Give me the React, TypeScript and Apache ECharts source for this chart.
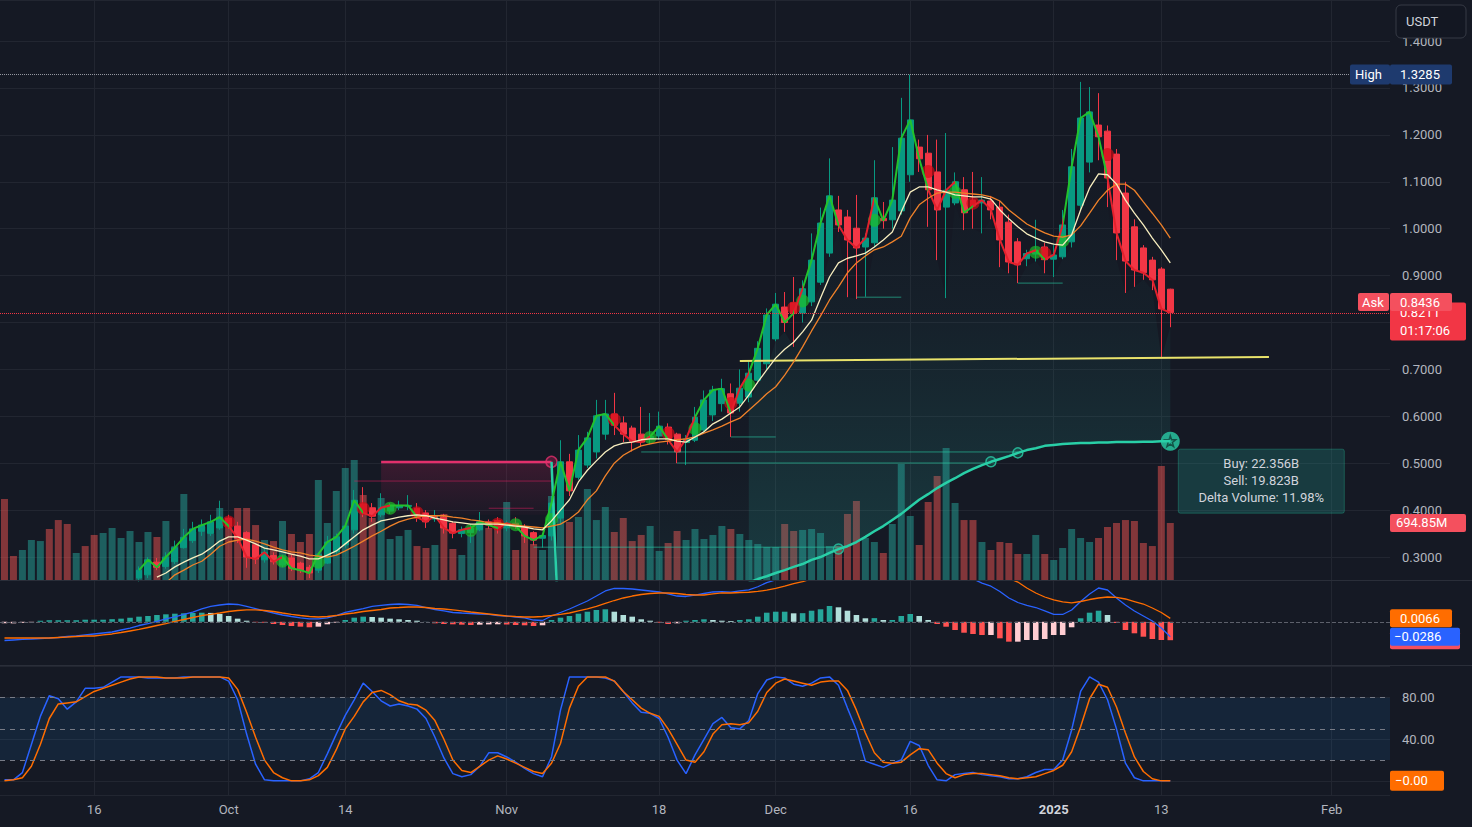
import React, { useEffect, useRef } from "react";
import * as echarts from "echarts";

// ---------------- data ----------------
const START_DATE = "2024-09-06";
const CATEGORY_COUNT = 155;
const CANDLE_START = 15;

const opens = [
  0.255, 0.262, 0.289, 0.28, 0.29, 0.32, 0.335, 0.355, 0.35, 0.362,
  0.383, 0.366, 0.352, 0.326, 0.294, 0.303, 0.283, 0.298, 0.287, 0.278,
  0.272, 0.287, 0.311, 0.326, 0.358, 0.413, 0.405, 0.39, 0.398, 0.405,
  0.408, 0.404, 0.394, 0.381, 0.385, 0.372, 0.35, 0.352, 0.358, 0.375,
  0.378, 0.362, 0.372, 0.364, 0.352, 0.34, 0.345, 0.383, 0.503, 0.47,
  0.496, 0.524, 0.562, 0.605, 0.586, 0.575, 0.562, 0.553, 0.558, 0.577,
  0.562, 0.544, 0.549, 0.571, 0.603, 0.627, 0.648, 0.628, 0.641, 0.677,
  0.712, 0.765, 0.833, 0.842, 0.82, 0.844, 0.886, 0.948, 1.04, 1.025,
  1.001, 0.961, 0.97, 1.022, 1.019, 1.038, 1.115, 1.174, 1.161, 1.121,
  1.046, 1.055, 1.083, 1.061, 1.055, 1.059, 1.046, 1.014, 0.972, 0.936,
  0.946, 0.961, 0.935, 0.94, 0.972, 1.05, 1.142, 1.221, 1.208, 1.159,
  1.076, 1.004, 0.959, 0.933, 0.914, 0.871,
];
const closes = [
  0.272, 0.294, 0.278, 0.3, 0.32, 0.342, 0.36, 0.368, 0.375, 0.385,
  0.366, 0.34, 0.3, 0.296, 0.31, 0.29, 0.3, 0.276, 0.272, 0.266,
  0.306, 0.332, 0.343, 0.366, 0.421, 0.394, 0.387, 0.405, 0.41, 0.41,
  0.41, 0.385, 0.375, 0.388, 0.362, 0.351, 0.358, 0.362, 0.375, 0.368,
  0.362, 0.372, 0.366, 0.345, 0.336, 0.346, 0.415, 0.503, 0.441, 0.528,
  0.554, 0.601, 0.605, 0.581, 0.562, 0.547, 0.545, 0.557, 0.579, 0.55,
  0.524, 0.552, 0.598, 0.635, 0.656, 0.659, 0.607, 0.66, 0.692, 0.745,
  0.816, 0.839, 0.8, 0.82, 0.872, 0.933, 1.012, 1.07, 1.008, 0.976,
  0.959, 0.98, 1.066, 1.017, 1.061, 1.193, 1.232, 1.149, 1.083, 1.04,
  1.082, 1.1, 1.034, 1.048, 1.061, 1.04, 0.976, 0.929, 0.923, 0.947,
  0.954, 0.934, 0.944, 1.008, 1.132, 1.236, 1.249, 1.196, 1.108, 0.991,
  0.931, 0.912, 0.906, 0.891, 0.829, 0.8211,
];
const lows = [
  0.248, 0.255, 0.272, 0.275, 0.285, 0.318, 0.33, 0.345, 0.345, 0.358,
  0.36, 0.33, 0.277, 0.285, 0.288, 0.284, 0.278, 0.27, 0.266, 0.255,
  0.266, 0.285, 0.305, 0.32, 0.35, 0.385, 0.375, 0.385, 0.392, 0.4,
  0.4, 0.375, 0.362, 0.375, 0.35, 0.34, 0.342, 0.33, 0.355, 0.36,
  0.35, 0.355, 0.36, 0.33, 0.325, 0.32, 0.335, 0.37, 0.43, 0.465,
  0.49, 0.51, 0.55, 0.56, 0.545, 0.525, 0.535, 0.54, 0.55, 0.54,
  0.5, 0.496, 0.545, 0.565, 0.59, 0.61, 0.556, 0.61, 0.63, 0.67,
  0.7, 0.76, 0.78, 0.748, 0.8, 0.835, 0.88, 0.94, 0.993, 0.854,
  0.85, 0.855, 0.96, 1.0, 1.0, 1.03, 1.1, 1.121, 1.004, 0.933,
  0.852, 1.05, 0.997, 1.0, 0.99, 1.02, 0.918, 0.905, 0.884, 0.92,
  0.93, 0.905, 0.897, 0.935, 0.96, 1.04, 1.12, 1.146, 1.046, 0.933,
  0.863, 0.876, 0.891, 0.869, 0.724, 0.79,
];
const highs = [
  0.28, 0.3, 0.298, 0.31, 0.335, 0.36, 0.375, 0.38, 0.39, 0.42,
  0.39, 0.375, 0.355, 0.33, 0.318, 0.31, 0.305, 0.305, 0.29, 0.283,
  0.31, 0.345, 0.35, 0.372, 0.443, 0.449, 0.415, 0.436, 0.415, 0.42,
  0.432, 0.415, 0.4, 0.4, 0.392, 0.375, 0.365, 0.37, 0.396, 0.38,
  0.385, 0.378, 0.385, 0.37, 0.355, 0.35, 0.43, 0.549, 0.52, 0.56,
  0.567, 0.635, 0.635, 0.65, 0.6, 0.58, 0.62, 0.607, 0.61, 0.585,
  0.565, 0.56, 0.62, 0.655, 0.665, 0.68, 0.67, 0.7, 0.72, 0.76,
  0.83, 0.863, 0.865, 0.897, 0.89, 0.99, 1.045, 1.15, 1.07, 1.04,
  1.072, 0.99, 1.146, 1.057, 1.174, 1.279, 1.3285, 1.19, 1.2, 1.19,
  1.204, 1.12, 1.11, 1.121, 1.11, 1.07, 1.06, 1.03, 0.98, 0.955,
  1.019, 0.97, 0.965, 1.04, 1.17, 1.313, 1.302, 1.289, 1.22, 1.17,
  1.1, 1.02, 0.965, 0.94, 0.918, 0.872,
];
// volume in millions, one per day from START_DATE
const volumes = [
  987, 293, 366, 488, 475, 622, 731, 683, 329, 414,
  549, 573, 634, 512, 597, 463, 585, 524, 719, 414,
  1048, 585, 646, 561, 878, 731, 878, 878, 670, 488,
  475, 719, 561, 463, 561, 1219, 695, 1085, 1365, 1463,
  1036, 756, 1000, 500, 536, 610, 414, 390, 427, 805,
  378, 305, 549, 670, 634, 731, 951, 366, 549, 439,
  366, 1024, 914, 707, 768, 1109, 731, 890, 585, 756,
  475, 549, 658, 354, 451, 597, 488, 622, 500, 549,
  658, 622, 561, 488, 439, 402, 402, 683, 597, 610,
  622, 573, 414, 414, 805, 963, 512, 463, 329, 683,
  1414, 780, 427, 951, 1268, 1609, 939, 731, 731, 463,
  366, 463, 451, 317, 317, 549, 317, 244, 390, 622,
  512, 463, 512, 646, 695, 731, 719, 451, 414, 1390,
  694.85,
];
const earlyVolumeUp = [0, 0, 1, 1, 1, 0, 0, 0, 1, 0, 0, 1, 1, 1, 1];

const MA_FAST_START = 17;
const maFast = [
  0.257, 0.266, 0.279, 0.289, 0.298, 0.306, 0.319, 0.334, 0.343, 0.343,
  0.336, 0.328, 0.319, 0.315, 0.311, 0.306, 0.302, 0.296, 0.296, 0.304,
  0.313, 0.328, 0.343, 0.358, 0.368, 0.377, 0.381, 0.385, 0.388, 0.39,
  0.388, 0.383, 0.379, 0.375, 0.373, 0.37, 0.37, 0.37, 0.37, 0.368,
  0.366, 0.364, 0.36, 0.358, 0.377, 0.4, 0.422, 0.46, 0.485, 0.505,
  0.524, 0.537, 0.543, 0.545, 0.55, 0.552, 0.552, 0.552, 0.547, 0.545,
  0.556, 0.567, 0.584, 0.594, 0.607, 0.62, 0.645, 0.673, 0.699, 0.724,
  0.743, 0.758, 0.78, 0.805, 0.852, 0.897, 0.927, 0.937, 0.942, 0.948,
  0.961, 0.976, 0.993, 1.036, 1.078, 1.089, 1.089, 1.083, 1.078, 1.072,
  1.07, 1.068, 1.068, 1.063, 1.04, 1.021, 1.004, 0.989, 0.98, 0.972,
  0.967, 0.965, 0.987, 1.04, 1.087, 1.117, 1.115, 1.095, 1.061, 1.033,
  1.008, 0.98, 0.955, 0.927,
];
const MA_SLOW_START = 18;
const maSlow = [
  0.245, 0.262, 0.272, 0.283, 0.291, 0.306, 0.323, 0.332, 0.336, 0.338,
  0.334, 0.328, 0.321, 0.315, 0.311, 0.309, 0.304, 0.302, 0.3, 0.304,
  0.313, 0.323, 0.334, 0.345, 0.355, 0.366, 0.375, 0.381, 0.385, 0.388,
  0.388, 0.388, 0.385, 0.383, 0.379, 0.377, 0.373, 0.373, 0.37, 0.368,
  0.366, 0.364, 0.362, 0.366, 0.37, 0.381, 0.396, 0.422, 0.441, 0.473,
  0.5, 0.517, 0.528, 0.537, 0.541, 0.545, 0.547, 0.55, 0.552, 0.556,
  0.564, 0.571, 0.579, 0.588, 0.596, 0.613, 0.63, 0.648, 0.663, 0.688,
  0.716, 0.748, 0.782, 0.814, 0.848, 0.876, 0.906, 0.927, 0.942, 0.955,
  0.961, 0.972, 0.984, 1.023, 1.051, 1.065, 1.076, 1.078, 1.078, 1.076,
  1.074, 1.072, 1.068, 1.059, 1.04, 1.025, 1.01, 1.0, 0.991, 0.984,
  0.982, 0.987, 1.006, 1.033, 1.061, 1.082, 1.095, 1.095, 1.082, 1.057,
  1.033, 1.008, 0.98,
];

// anchored volume curve (teal), from index 61
const ANCHOR_START = 61;
const anchorCurve: any[] = [
  0.5028, 0.05, ...Array(20).fill("-"), 0.246,
  0.253, 0.259, 0.266, 0.272, 0.279, 0.285, 0.294, 0.3, 0.309, 0.317,
  0.323, 0.332, 0.343, 0.355, 0.366, 0.379, 0.392, 0.407, 0.422, 0.434,
  0.447, 0.458, 0.468, 0.479, 0.488, 0.496, 0.503, 0.509, 0.515, 0.522,
  0.528, 0.532, 0.537, 0.539, 0.541, 0.542, 0.543, 0.543, 0.544, 0.544,
  0.545, 0.545, 0.545, 0.546, 0.546, 0.547, 0.547,
];
const FOG_FROM = 62;
const FOG_SPLIT = 83;
const FOG_FLOOR = 0.2;
const curveMarkIdx = [93, 110, 113];

const macdLine = [
  -0.0358, -0.0348, -0.0338, -0.0329, -0.0319, -0.031, -0.03, -0.0281, -0.0272, -0.0252,
  -0.0233, -0.0214, -0.0195, -0.0157, -0.0119, -0.0071, -0.0033, 0.0006, 0.0054, 0.0092,
  0.014, 0.0187, 0.0245, 0.0293, 0.0321, 0.034, 0.0331, 0.0293, 0.0254, 0.0207,
  0.0168, 0.013, 0.0101, 0.0073, 0.0054, 0.0054, 0.0073, 0.012, 0.0178, 0.0216,
  0.0254, 0.0293, 0.0312, 0.0331, 0.034, 0.0331, 0.0312, 0.0273, 0.0235, 0.0207,
  0.0178, 0.0168, 0.0159, 0.0149, 0.014, 0.012, 0.0111, 0.0092, 0.0073, 0.0034,
  0.0025, 0.0111, 0.0178, 0.0245, 0.0321, 0.0398, 0.0493, 0.0589, 0.0637, 0.0637,
  0.0627, 0.0608, 0.0589, 0.057, 0.0532, 0.0493, 0.0484, 0.0512, 0.0541, 0.057,
  0.0575, 0.0568, 0.059, 0.061, 0.067, 0.075, 0.08, 0.085, 0.09, 0.095,
  0.102, 0.11, 0.122, 0.126, 0.125, 0.121, 0.116, 0.118, 0.115, 0.116,
  0.126, 0.133, 0.132, 0.125, 0.117, 0.11, 0.1, 0.09, 0.082, 0.074,
  0.068, 0.058, 0.0455, 0.0369, 0.0312, 0.0273, 0.0207, 0.014, 0.014, 0.0226,
  0.0388, 0.0532, 0.0646, 0.0608, 0.0455, 0.0321, 0.0207, 0.0111, 0.0015, -0.0119,
  -0.0286,
];
const signalLine = [
  -0.031, -0.031, -0.031, -0.031, -0.031, -0.031, -0.03, -0.0291, -0.0281, -0.0272,
  -0.0272, -0.0252, -0.0233, -0.0205, -0.0176, -0.0147, -0.0109, -0.0071, -0.0033, 0.0006,
  0.0044, 0.0082, 0.012, 0.014, 0.0168, 0.0197, 0.0216, 0.0226, 0.0226, 0.0216,
  0.0197, 0.0168, 0.014, 0.012, 0.0101, 0.0092, 0.0101, 0.012, 0.0149, 0.0168,
  0.0197, 0.0216, 0.0235, 0.0264, 0.0273, 0.0283, 0.0283, 0.0273, 0.0254, 0.0245,
  0.0226, 0.0207, 0.0187, 0.0168, 0.0149, 0.013, 0.0111, 0.0101, 0.0092, 0.0092,
  0.0101, 0.012, 0.014, 0.0168, 0.0207, 0.0245, 0.0293, 0.035, 0.0407, 0.0455,
  0.0493, 0.0522, 0.0541, 0.0551, 0.0551, 0.0541, 0.0522, 0.0512, 0.0512, 0.0532,
  0.0551, 0.0551, 0.056, 0.0565, 0.058, 0.0605, 0.064, 0.068, 0.073, 0.077,
  0.082, 0.087, 0.093, 0.099, 0.104, 0.107, 0.109, 0.111, 0.112, 0.113,
  0.115, 0.118, 0.121, 0.122, 0.121, 0.119, 0.115, 0.11, 0.105, 0.099,
  0.093, 0.089, 0.083, 0.076, 0.0646, 0.0551, 0.0474, 0.0417, 0.0379, 0.036,
  0.0388, 0.0426, 0.0455, 0.0474, 0.0465, 0.0436, 0.0388, 0.034, 0.0264, 0.0178,
  0.0066,
];
const macdHist = [
  -0.003, -0.003, -0.002, -0.001, 0.002, 0.003, 0.003, 0.003, 0.003, 0.004,
  0.004, 0.004, 0.005, 0.006, 0.0079, 0.0098, 0.0111, 0.013, 0.0143, 0.0155,
  0.0162, 0.0168, 0.0174, 0.017, 0.0149, 0.0111, 0.006, 0.0021, -0.001, -0.0017,
  -0.0042, -0.0061, -0.008, -0.0093, -0.0105, -0.0093, -0.0048, -0.0017, 0.0034, 0.0079,
  0.0098, 0.0092, 0.0079, 0.006, 0.0048, 0.0034, 0.0021, 0.0002, -0.0029, -0.0042,
  -0.0048, -0.0055, -0.0061, -0.0055, -0.005, -0.0048, -0.0052, -0.0061, -0.0067, -0.008,
  -0.0067, 0.0034, 0.0079, 0.0111, 0.0155, 0.0193, 0.0226, 0.0239, 0.0193, 0.013,
  0.0098, 0.0048, 0.0021, -0.0017, -0.0042, -0.0029, 0.0021, 0.0034, 0.0048, 0.0034,
  0.0021, 0.0015, 0.0034, 0.0048, 0.0098, 0.0174, 0.0193, 0.0193, 0.0162, 0.0165,
  0.0212, 0.0239, 0.0302, 0.0277, 0.0212, 0.013, 0.0067, 0.007, 0.0034, 0.0034,
  0.0111, 0.0149, 0.0111, 0.0034, -0.0042, -0.0094, -0.0157, -0.0209, -0.0233, -0.0252,
  -0.0252, -0.0316, -0.038, -0.038, -0.0348, -0.0348, -0.0329, -0.0252, -0.0252, -0.0105,
  0.0067, 0.0174, 0.0212, 0.013, -0.0023, -0.0157, -0.022, -0.0285, -0.0329, -0.0348,
  -0.0352,
];
const stochK = [
  1, 1, 8, 35, 62, 82, 79, 69, 76, 89,
  89, 90, 95, 100, 100, 100, 99, 99, 99, 99,
  100, 100, 100, 100, 100, 96, 78, 45, 16, 1,
  0, 0, 0, 0, 2, 8, 26, 45, 63, 78,
  94, 86, 77, 72, 74, 72, 69, 60, 42, 22,
  7, 4, 6, 14, 27, 27, 23, 18, 12, 7,
  4, 23, 68, 100, 100, 100, 100, 99, 96, 86,
  75, 66, 65, 60, 42, 20, 7, 25, 40, 55,
  61, 51, 50, 58, 84, 97, 100, 99, 93, 91,
  94, 99, 100, 92, 70, 49, 19, 16, 13, 17,
  20, 38, 34, 15, 1, 0, 6, 7, 8, 6,
  5, 4, 2, 2, 4, 8, 11, 11, 20, 49,
  86, 100, 95, 78, 50, 17, 3, 0, 0, 0,
  0,
];
const stochD = [
  0, 1, 3, 14, 35, 60, 74, 75, 76, 81,
  86, 89, 92, 95, 98, 100, 100, 100, 99, 99,
  99, 100, 100, 100, 100, 99, 88, 66, 42, 20,
  8, 3, 0, 0, 1, 5, 13, 30, 50, 62,
  76, 85, 87, 83, 77, 74, 73, 68, 58, 40,
  20, 10, 8, 14, 20, 24, 21, 17, 13, 9,
  7, 17, 36, 70, 91, 100, 100, 100, 96, 86,
  78, 70, 65, 62, 50, 35, 20, 18, 28, 45,
  54, 55, 54, 56, 67, 85, 94, 98, 96, 94,
  92, 95, 96, 96, 87, 68, 46, 27, 18, 17,
  18, 25, 31, 30, 17, 7, 3, 6, 7, 7,
  6, 5, 3, 2, 3, 4, 7, 10, 15, 28,
  52, 79, 93, 90, 71, 46, 23, 9, 2, 0,
  -0.001,
];

// trend line colour flips (index, 1 = up) and pivot dots
const trendFlipIdx = [15, 25, 31, 40, 43, 46, 52, 55, 57, 68, 72, 74, 77, 81, 83, 88, 89, 93, 97, 103, 106, 108, 115, 116, 118, 123];
const trendFlipUp = [1, 0, 1, 0, 1, 0, 1, 0, 1, 0, 1, 0, 1, 0, 1, 0, 1, 0, 1, 0, 1, 0, 1, 0, 1, 0];
const greenDotIdx = [31, 35, 43, 52, 57, 61, 72, 77, 83, 89, 97, 106, 115, 118];
const redDotIdx = [25, 40, 46, 55, 68, 74, 81, 88, 103, 108, 116, 123];

// horizontal levels [startIndex, endIndex, price]
const levels = [
  [59, 93, 0.321],
  [75, 110, 0.5004],
  [71, 113, 0.524],
  [81, 86, 0.556],
  [95, 100, 0.854],
  [113, 118, 0.884],
];
const zone = { start: 42, end: 61, top: 0.5028, bottom: 0.39 };
const zoneLines = [
  [39, 61, 0.462],
  [54, 59, 0.404],
];
const trendLine = [
  ["2024-11-27", 0.718],
  ["2025-01-25", 0.7265],
];
const annotations = [
  [64, 0.537, "NaN"],
  [96, 0.279, "NaN"],
  [117, 0.4855, "581.641M"],
  [114, 0.462, "581.641M"],
];

const xTickDates = ["2024-09-16", "2024-10-01", "2024-10-14", "2024-11-01", "2024-11-18", "2024-12-01", "2024-12-16", "2025-01-01", "2025-01-13", "2025-02-01"];
const xTickLabels = ["16", "Oct", "14", "Nov", "18", "Dec", "16", "2025", "13", "Feb"];

const ASK_PRICE = 0.8436;
const COUNTDOWN = "01:17:06";
const CURRENCY = "USDT";
const BUY_TEXT = "Buy: 22.356B";
const SELL_TEXT = "Sell: 19.823B";
const DELTA_TEXT = "Delta Volume: 11.98%";

// ---------------- style ----------------
const BG = "#151924";
const GRID = "#222631";
const AXIS_TEXT = "#b2b5be";
const FONT = "Roboto, 'Noto Sans', sans-serif";
const UP = "#089981";
const DOWN = "#f23645";
const VOL_UP = "rgba(38,166,154,0.5)";
const VOL_DOWN = "rgba(239,83,80,0.5)";
const TEAL = "#29cfa7";

const W = 1472;
const H = 827;
const PLOT_W = 1390;
const MAIN = { top: 0, height: 580 };
const MACD_G = { top: 581, height: 83 };
const STO_G = { top: 666, height: 129 };

function fmtSigned(v: number, d: number) {
  return (v < 0 ? "\u2212" : "") + Math.abs(v).toFixed(d);
}

function fogGradient(alphaBottom: number) {
  return {
    type: "linear", x: 0, y: 0, x2: 0, y2: 1,
    colorStops: [
      { offset: 0, color: "rgba(38,166,154,0.0)" },
      { offset: 0.35, color: "rgba(38,166,154," + (alphaBottom * 0.2).toFixed(3) + ")" },
      { offset: 1, color: "rgba(38,166,154," + alphaBottom + ")" },
    ],
  };
}

export default function App() {
  const ref = useRef<HTMLDivElement>(null);

  useEffect(() => {
    document.body.style.margin = "0";
    const el = ref.current as HTMLDivElement;
    const chart = echarts.init(el, null, { renderer: "svg" });

    const cats: string[] = [];
    const [sy, sm, sd] = START_DATE.split("-").map(Number);
    for (let k = 0; k < CATEGORY_COUNT; k++) {
      const d = new Date(Date.UTC(sy, sm - 1, sd + k));
      cats.push(d.toISOString().slice(0, 10));
    }
    const tickMap = new Map<string, string>();
    xTickDates.forEach((d, k) => tickMap.set(d, xTickLabels[k]));

    const n = volumes.length;
    const cIdx = (i: number) => i - CANDLE_START;
    const pad = (start: number, arr: any[]) => [...Array(start).fill("-"), ...arr];
    const curveAt = (i: number) => anchorCurve[i - ANCHOR_START];

    const candleData = Array.from({ length: n }, (_, i) =>
      i < CANDLE_START ? ["-", "-", "-", "-"] : [opens[cIdx(i)], closes[cIdx(i)], lows[cIdx(i)], highs[cIdx(i)]]
    );
    const volData = volumes.map((v, i) => {
      const up = i < CANDLE_START ? earlyVolumeUp[i] === 1 : closes[cIdx(i)] >= opens[cIdx(i)];
      return { value: v, itemStyle: { color: up ? VOL_UP : VOL_DOWN } };
    });
    const histData = macdHist.map((h, i) => {
      const prev = i > 0 ? macdHist[i - 1] : h;
      let c: string;
      if (h >= 0) c = h >= prev ? "#26a69a" : "#b2dfdb";
      else c = h < prev ? "#ff5252" : "#ffcdd2";
      return { value: h, itemStyle: { color: c } };
    });

    // fog between the anchored curve (or the pane floor) and the candle lows
    const fogParts = (from: number, to: number) => {
      const base: any[] = [];
      const band: any[] = [];
      for (let i = 0; i < n; i++) {
        if (i < from || i > to) {
          base.push("-");
          band.push("-");
        } else {
          const c = curveAt(i);
          const b = typeof c === "number" && c > FOG_FLOOR ? c : FOG_FLOOR;
          base.push(b);
          band.push(Math.max(0, lows[cIdx(i)] - b));
        }
      }
      return { base, band };
    };
    const fogLeft = fogParts(FOG_FROM, FOG_SPLIT);
    const fogRight = fogParts(FOG_SPLIT, n - 1);

    const mid = (i: number) => (opens[cIdx(i)] + closes[cIdx(i)]) / 2;
    const HIGH = Math.max(...highs);
    const LAST = closes[closes.length - 1];

    const series: any[] = [];
    // volume
    series.push({ type: "bar", xAxisIndex: 1, yAxisIndex: 1, data: volData, barWidth: "78%", silent: true });
    // fog
    series.push({ type: "line", data: fogLeft.base, stack: "fogL", symbol: "none", lineStyle: { opacity: 0 }, silent: true });
    series.push({ type: "line", data: fogLeft.band, stack: "fogL", symbol: "none", lineStyle: { opacity: 0 }, silent: true, areaStyle: { color: fogGradient(0.14) } });
    series.push({ type: "line", data: fogRight.base, stack: "fogR", symbol: "none", lineStyle: { opacity: 0 }, silent: true });
    series.push({ type: "line", data: fogRight.band, stack: "fogR", symbol: "none", lineStyle: { opacity: 0 }, silent: true, areaStyle: { color: fogGradient(0.34) } });
    // levels
    levels.forEach(([s, e, p]) => {
      series.push({ type: "line", data: [[s, p], [e, p]], symbol: "none", silent: true, lineStyle: { color: "rgba(41,207,167,0.6)", width: 1 } });
    });
    // pink zone
    zoneLines.forEach(([s, e, p]) => {
      series.push({ type: "line", data: [[s, p], [e, p]], symbol: "none", silent: true, lineStyle: { color: "rgba(233,30,99,0.5)", width: 1 } });
    });
    series.push({
      type: "line", data: [[zone.start, zone.top], [zone.end, zone.top]], symbol: "none", silent: true,
      lineStyle: { color: "#e2306c", width: 2.5 },
      markArea: {
        silent: true,
        itemStyle: {
          color: {
            type: "linear", x: 0, y: 0, x2: 0, y2: 1,
            colorStops: [
              { offset: 0, color: "rgba(233,30,99,0.18)" },
              { offset: 1, color: "rgba(233,30,99,0.03)" },
            ],
          },
        },
        data: [[{ coord: [zone.start, zone.top] }, { coord: [zone.end, zone.bottom] }]],
      },
    });
    // anchored curve
    series.push({ type: "line", data: pad(ANCHOR_START, anchorCurve), symbol: "none", silent: true, lineStyle: { color: TEAL, width: 2.5 } });
    series.push({
      type: "scatter", data: curveMarkIdx.map((i) => [i, curveAt(i)]), symbol: "circle", symbolSize: 10, silent: true,
      itemStyle: { color: "rgba(41,207,167,0.25)", borderColor: TEAL, borderWidth: 1.5 },
    });
    series.push({
      type: "scatter", data: [[zone.end, zone.top]], symbol: "circle", symbolSize: 11, silent: true,
      itemStyle: { color: "rgba(233,30,99,0.35)", borderColor: "#e2306c", borderWidth: 1.5 },
    });
    // yellow trendline
    series.push({ type: "line", data: trendLine, symbol: "none", silent: true, lineStyle: { color: "#e9e36b", width: 2 } });
    // trend line (beneath candles)
    const trendSeriesIndex = series.length;
    series.push({ type: "line", data: pad(CANDLE_START, closes), symbol: "none", silent: true, lineStyle: { width: 2 } });
    // candles
    series.push({
      type: "candlestick", data: candleData, barWidth: "72%", silent: true,
      itemStyle: { color: UP, color0: DOWN, borderColor: UP, borderColor0: DOWN, borderWidth: 1 },
      markLine: {
        symbol: "none", silent: true, label: { show: false },
        data: [
          { yAxis: HIGH, lineStyle: { color: "#9598a1", type: "dotted", width: 1 } },
          { yAxis: LAST, lineStyle: { color: DOWN, type: "dotted", width: 1 } },
        ],
      },
    });
    // MAs
    series.push({ type: "line", data: pad(MA_SLOW_START, maSlow), symbol: "none", silent: true, lineStyle: { color: "#f0822a", width: 1.3 } });
    series.push({ type: "line", data: pad(MA_FAST_START, maFast), symbol: "none", silent: true, lineStyle: { color: "#f8eebf", width: 1.3 } });
    // pivots
    series.push({
      type: "scatter", data: greenDotIdx.map((i) => [i, mid(i)]), symbolSize: 13, silent: true,
      itemStyle: { color: "rgba(30,190,40,0.85)" },
    });
    series.push({
      type: "scatter", data: redDotIdx.map((i) => [i, mid(i)]), symbolSize: 13, silent: true,
      itemStyle: { color: "rgba(210,10,20,0.85)" },
    });
    // end marker
    const lastIdx = n - 1;
    series.push({
      type: "scatter", data: [[lastIdx, curveAt(lastIdx)]], symbol: "circle", symbolSize: 19, silent: true,
      itemStyle: { color: TEAL },
    });
    series.push({
      type: "scatter", data: [[lastIdx, curveAt(lastIdx)]], silent: true,
      symbol: "path://M50,4 L61,38 L97,38 L68,60 L79,95 L50,74 L21,95 L32,60 L3,38 L39,38 Z",
      symbolSize: 11, itemStyle: { color: "rgba(0,0,0,0)", borderColor: "#0e3d35", borderWidth: 1.4 },
    });
    // annotations
    series.push({
      type: "scatter", data: annotations, symbolSize: 1, silent: true, itemStyle: { opacity: 0 },
      label: { show: true, position: "inside", formatter: (p: any) => p.data[2], color: "#c9ccd4", fontSize: 12, fontFamily: FONT },
    });
    // MACD
    series.push({
      type: "bar", xAxisIndex: 2, yAxisIndex: 2, data: histData, barWidth: "62%", silent: true,
      markLine: { symbol: "none", silent: true, label: { show: false }, data: [{ yAxis: 0 }], lineStyle: { color: "#5d606b", type: "dashed", width: 1 } },
    });
    series.push({ type: "line", xAxisIndex: 2, yAxisIndex: 2, data: macdLine, symbol: "none", silent: true, lineStyle: { color: "#2962ff", width: 1.3 } });
    series.push({ type: "line", xAxisIndex: 2, yAxisIndex: 2, data: signalLine, symbol: "none", silent: true, lineStyle: { color: "#ff6d00", width: 1.3 } });
    // Stoch
    series.push({
      type: "line", xAxisIndex: 3, yAxisIndex: 3, data: stochK, symbol: "none", silent: true, lineStyle: { opacity: 0 },
      markArea: { silent: true, itemStyle: { color: "rgba(33,150,243,0.1)" }, data: [[{ yAxis: 20 }, { yAxis: 80 }]] },
      markLine: {
        symbol: "none", silent: true, label: { show: false },
        lineStyle: { color: "#787b86", type: [5, 5], width: 1 },
        data: [{ yAxis: 80 }, { yAxis: 50 }, { yAxis: 20 }],
      },
    });
    series.push({ type: "line", xAxisIndex: 3, yAxisIndex: 3, data: stochK, symbol: "none", silent: true, lineStyle: { color: "#2962ff", width: 1.5 } });
    series.push({ type: "line", xAxisIndex: 3, yAxisIndex: 3, data: stochD, symbol: "none", silent: true, lineStyle: { color: "#ff6d00", width: 1.5 } });

    const pieces = trendFlipIdx.map((s, k) => ({
      gte: s,
      lt: k + 1 < trendFlipIdx.length ? trendFlipIdx[k + 1] : 10000,
      color: trendFlipUp[k] ? "#22c22c" : "#e3202c",
    }));

    const hiddenX = (gridIndex: number) => ({ type: "category", gridIndex, data: cats, boundaryGap: true, show: false });
    const grid = (g: any, left = 0, width = PLOT_W) => ({ left, width, top: g.top, height: g.height, outerBoundsMode: "none", containLabel: false });

    const option: any = {
      animation: false,
      backgroundColor: BG,
      textStyle: { fontFamily: FONT },
      grid: [
        grid(MAIN),
        grid(MAIN),
        grid(MACD_G),
        grid(STO_G),
        grid({ top: 0, height: STO_G.top + STO_G.height }, PLOT_W / CATEGORY_COUNT / 2, PLOT_W - PLOT_W / CATEGORY_COUNT),
      ],
      xAxis: [
        hiddenX(0),
        hiddenX(1),
        hiddenX(2),
        hiddenX(3),
        {
          type: "category", gridIndex: 4, data: cats, boundaryGap: false,
          axisLine: { show: false }, axisTick: { show: false },
          axisLabel: {
            interval: (_i: number, v: string) => tickMap.has(v),
            formatter: (v: string) => {
              const t = tickMap.get(v) || "";
              return /^\d{4}$/.test(t) ? "{b|" + t + "}" : t;
            },
            color: AXIS_TEXT, fontSize: 13, margin: 8, fontFamily: FONT,
            rich: { b: { fontWeight: "bold", color: "#d1d4dc", fontSize: 13, fontFamily: FONT } },
          },
          splitLine: { show: true, interval: (_i: number, v: string) => tickMap.has(v), lineStyle: { color: GRID, width: 1 } },
        },
      ],
      yAxis: [
        {
          type: "value", gridIndex: 0, position: "right", min: 0.251, max: 1.4876,
          splitNumber: 12, minInterval: 0.1, maxInterval: 0.1,
          axisLine: { show: false }, axisTick: { show: false },
          axisLabel: { color: AXIS_TEXT, fontSize: 13, margin: 12, fontFamily: FONT, showMinLabel: false, showMaxLabel: false, formatter: (v: number) => v.toFixed(4) },
          splitLine: { show: true, lineStyle: { color: GRID, width: 1 } },
        },
        { type: "value", gridIndex: 1, min: 0, max: 7070, show: false },
        { type: "value", gridIndex: 2, min: -0.0807, max: 0.078, show: false },
        {
          type: "value", gridIndex: 3, position: "right", min: -13.6, max: 110.5,
          splitNumber: 3, minInterval: 40, maxInterval: 40,
          axisLine: { show: false }, axisTick: { show: false },
          axisLabel: {
            color: AXIS_TEXT, fontSize: 13, margin: 12, fontFamily: FONT, showMinLabel: false, showMaxLabel: false,
            formatter: (v: number) => (v === 40 || v === 80 ? v.toFixed(2) : ""),
          },
          splitLine: { show: true, lineStyle: { color: GRID, width: 1 } },
        },
        { type: "value", gridIndex: 4, min: 0, max: 1, show: false },
      ],
      visualMap: [{ type: "piecewise", show: false, seriesIndex: trendSeriesIndex, dimension: 0, pieces }],
      series,
    };
    chart.setOption(option);

    // ---------- badges & overlays ----------
    const yOf = (axis: number, v: number) => chart.convertToPixel({ yAxisIndex: axis } as any, v) as unknown as number;
    const X0 = PLOT_W;
    const font = "13px " + FONT;
    let zc = 50;
    const g: any[] = [];
    const txt = (text: string, x: number, y: number, fill = "#ffffff", align = "left") => {
      g.push({
        type: "text", z: zc++,
        style: { text, x, y, fill, font, textAlign: align, textVerticalAlign: "middle", align, verticalAlign: "middle" },
      });
    };
    const rect = (x: number, y: number, w: number, h: number, fill: string, stroke?: string, r = 2) => {
      g.push({
        type: "rect", z: zc++, shape: { x, y, width: w, height: h, r },
        style: stroke ? { fill, stroke, lineWidth: 1 } : { fill },
      });
    };

    // pane separators
    [MACD_G.top - 0.5, STO_G.top - 0.5].forEach((y) =>
      g.push({ type: "line", z: 40, shape: { x1: 0, y1: y, x2: W, y2: y }, style: { stroke: "#2a2e39", lineWidth: 1 } })
    );
    // currency button
    rect(1396, 5, 70, 33, "#131722", "#363a45", 5);
    txt(CURRENCY, 1406, 21, "#d1d4dc");
    // high
    const yHigh = yOf(0, HIGH);
    rect(1350, yHigh - 10, 40, 20, "#1e3a6e");
    txt("High", 1355, yHigh);
    rect(X0, yHigh - 10, 62, 20, "#1e3a6e");
    txt(HIGH.toFixed(4), X0 + 10, yHigh);
    // close + countdown (partly covered by ask badge, as in the source)
    const yLast = yOf(0, LAST);
    rect(X0, yLast - 10, 76, 38, DOWN);
    txt(LAST.toFixed(4), X0 + 10, yLast);
    txt(COUNTDOWN, X0 + 10, yLast + 18);
    // ask
    const yAsk = yOf(0, ASK_PRICE);
    rect(1358, yAsk - 9, 31, 18, "#f4505e");
    txt("Ask", 1362, yAsk);
    rect(X0, yAsk - 9, 62, 18, "#f4505e");
    txt(ASK_PRICE.toFixed(4), X0 + 10, yAsk);
    // volume
    const lastVol = volumes[n - 1];
    const yVol = yOf(1, lastVol);
    rect(X0, yVol - 9, 76, 18, "#f4505e");
    txt(lastVol.toFixed(2) + "M", X0 + 6, yVol);
    // MACD badges (histogram badge hidden under the MACD badge)
    const lastHist = macdHist[n - 1];
    const lastMacd = macdLine[n - 1];
    const lastSig = signalLine[n - 1];
    const yH = yOf(2, lastHist);
    rect(X0, yH - 9, 70, 18, "#f4505e");
    const yM = yOf(2, lastMacd);
    rect(X0, yM - 9, 70, 18, "#2962ff");
    txt(fmtSigned(lastMacd, 4), X0 + 4, yM);
    const yS = yOf(2, lastSig);
    rect(X0, yS - 9, 62, 18, "#ff6d00");
    txt(fmtSigned(lastSig, 4), X0 + 10, yS);
    // stoch badge
    const lastD = stochD[n - 1];
    const yD = yOf(3, lastD);
    rect(X0, yD - 10, 54, 20, "#ff6d00");
    txt(fmtSigned(lastD, 2), X0 + 5, yD);
    // info box at curve end
    const pEnd = chart.convertToPixel({ xAxisIndex: 0, yAxisIndex: 0 } as any, [lastIdx, curveAt(lastIdx)]) as unknown as number[];
    const bx = pEnd[0] + 8;
    const by = pEnd[1] + 8;
    rect(bx, by, 166, 64, "rgba(38,166,154,0.24)", "rgba(41,207,167,0.3)", 2);
    txt(BUY_TEXT, bx + 83, by + 14, "#d1d4dc", "center");
    txt(SELL_TEXT, bx + 83, by + 31, "#d1d4dc", "center");
    txt(DELTA_TEXT, bx + 83, by + 48, "#d1d4dc", "center");

    chart.setOption({ graphic: g });

    return () => chart.dispose();
  }, []);

  return <div ref={ref} style={{ position: "fixed", left: 0, top: 0, width: W, height: H, background: BG }} />;
}
